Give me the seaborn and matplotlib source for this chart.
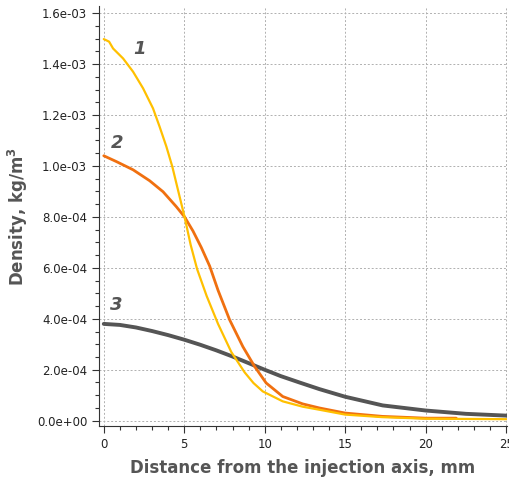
import numpy as np
import pandas as pd
import matplotlib
matplotlib.use("Agg")
import matplotlib.pyplot as plt
import seaborn as sns
from matplotlib.ticker import MultipleLocator, FuncFormatter

# --- datos (x en mm, densidad en 1e-3 kg/m3) ---
x1 = [0.0, 0.33, 0.58, 1.2, 1.82, 2.44, 3.06, 3.47, 3.89, 4.26, 4.51, 5.02, 5.4, 5.8,
      6.39, 7.1, 7.92, 8.75, 9.3, 9.88, 11.12, 12.36, 13.4, 15.0, 17.3, 20.0, 25.0]
y1 = [1.498, 1.488, 1.461, 1.422, 1.370, 1.305, 1.226, 1.154, 1.076, 0.997, 0.932, 0.800,
      0.690, 0.595, 0.490, 0.380, 0.270, 0.190, 0.148, 0.115, 0.076, 0.055, 0.043, 0.024,
      0.014, 0.008, 0.006]

x2 = [0.0, 0.79, 1.82, 2.85, 3.68, 4.51, 5.02, 5.54, 6.06, 6.58, 7.1, 7.82, 8.64,
      9.37, 10.09, 11.12, 12.36, 13.4, 15.0, 17.3, 20.0, 21.9]
y2 = [1.040, 1.017, 0.985, 0.942, 0.899, 0.840, 0.800, 0.745, 0.680, 0.607, 0.512,
      0.396, 0.291, 0.213, 0.148, 0.095, 0.066, 0.050, 0.030, 0.017, 0.010, 0.010]

x3 = [0.0, 1.0, 2.0, 3.0, 4.0, 5.0, 6.0, 7.0, 8.0, 9.0, 10.0, 11.0, 12.16, 13.4, 15.0,
      17.33, 20.0, 22.5, 25.0]
y3 = [0.380, 0.376, 0.366, 0.352, 0.336, 0.318, 0.298, 0.276, 0.252, 0.226, 0.200,
      0.175, 0.150, 0.124, 0.094, 0.060, 0.040, 0.027, 0.020]

etiquetas = ["1", "2", "3"]
pos_etiquetas = [(2.19, 1.458e-3), (0.85, 1.091e-3), (0.8, 0.455e-3)]

df1 = pd.DataFrame({"x": x1, "y": np.array(y1) * 1e-3})
df2 = pd.DataFrame({"x": x2, "y": np.array(y2) * 1e-3})
df3 = pd.DataFrame({"x": x3, "y": np.array(y3) * 1e-3})

sns.set_style("white")
plt.rcParams['font.family'] = ['DejaVu Sans']

fig = plt.figure(figsize=(5.1, 4.79), dpi=100)
ax = fig.add_axes([0.194, 0.110, 0.800, 0.877])

gris = "#555555"
sns.lineplot(data=df3, x="x", y="y", color="#555555", linewidth=2.8, ax=ax)
sns.lineplot(data=df2, x="x", y="y", color="#F07010", linewidth=2.0, ax=ax)
sns.lineplot(data=df1, x="x", y="y", color="#FFC000", linewidth=1.6, ax=ax)

for txt, (xx, yy) in zip(etiquetas, pos_etiquetas):
    ax.text(xx, yy, txt, fontsize=13, fontweight="bold", fontstyle="italic",
            color=gris, ha="center", va="center")

ax.set_xlim(-0.3, 25.05)
ax.set_ylim(-0.022e-3, 1.627e-3)
ax.xaxis.set_major_locator(MultipleLocator(5))
ax.xaxis.set_minor_locator(MultipleLocator(1))
ax.yaxis.set_major_locator(MultipleLocator(2e-4))
ax.yaxis.set_minor_locator(MultipleLocator(0.5e-4))
ax.yaxis.set_major_formatter(FuncFormatter(lambda v, p: f"{v:.1e}"))

ax.grid(True, which="major", color="#b0b0b0", linestyle=(0, (2, 2)), linewidth=0.7)
for s in ["top", "right"]:
    ax.spines[s].set_visible(False)
for s in ["left", "bottom"]:
    ax.spines[s].set_color("#333333")
    ax.spines[s].set_linewidth(0.8)

ax.tick_params(axis="both", which="major", length=5, width=0.8, color="#333333",
               labelsize=8.5, labelcolor="#222222", direction="out", left=True, bottom=True)
ax.tick_params(axis="both", which="minor", length=3, width=0.8, color="#333333",
               direction="out", left=True, bottom=True)

ax.set_xlabel("Distance from the injection axis, mm", fontsize=12, fontweight="bold",
              color=gris, labelpad=6)
ax.set_ylabel("Density, kg/m$^\\mathbf{3}$", fontsize=12, fontweight="bold",
              color=gris, labelpad=5)

plt.savefig("out.png", dpi=100)
